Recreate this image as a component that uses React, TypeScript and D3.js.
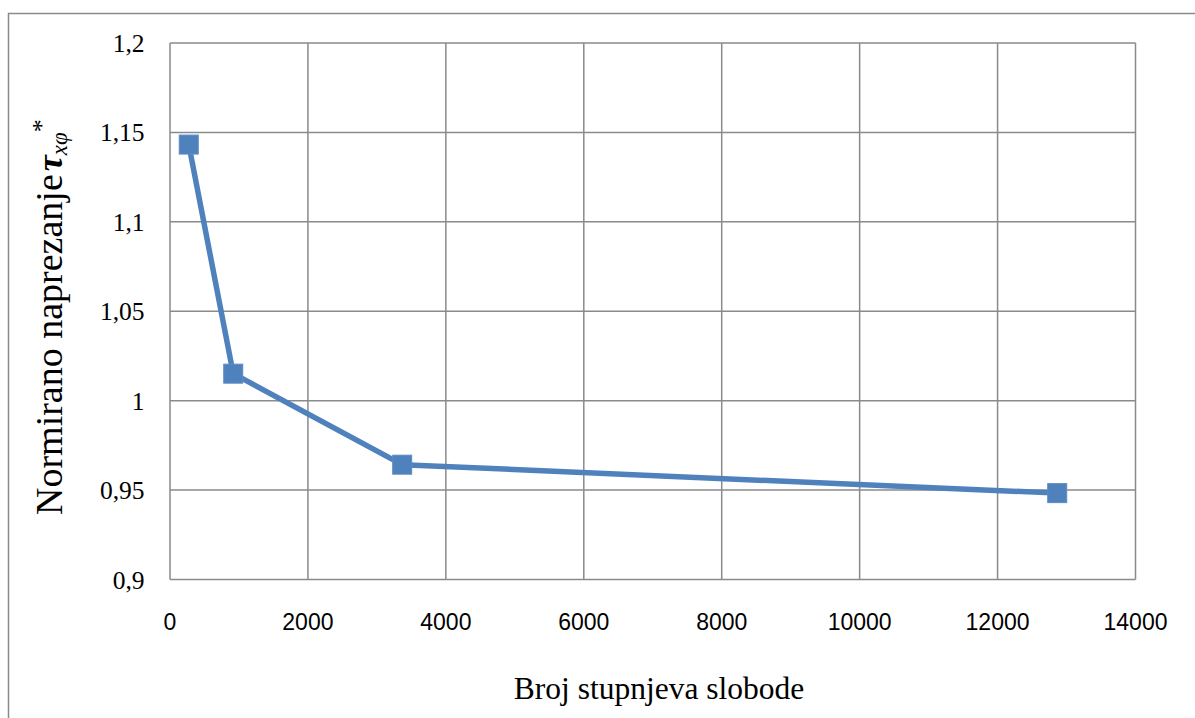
import React from "react";
import * as d3 from "d3";

const dofValues = [272, 917, 3367, 12865];
const stressValues = [1.1432, 1.0151, 0.9642, 0.9483];
const xTicks = [0, 2000, 4000, 6000, 8000, 10000, 12000, 14000];
const yTicks = [0.9, 0.95, 1.0, 1.05, 1.1, 1.15, 1.2];
const yTickLabels = ["0,9", "0,95", "1", "1,05", "1,1", "1,15", "1,2"];

const W = 1195;
const H = 718;
const plot = { left: 170, right: 1135.5, top: 43, bottom: 579.5 };
const blue = "#4F81BD";
const grid = "#8a8a8a";

export default function App() {
  const x = d3.scaleLinear().domain([0, 14000]).range([plot.left, plot.right]);
  const y = d3.scaleLinear().domain([0.9, 1.2]).range([plot.bottom, plot.top]);
  const pts = dofValues.map((d, i) => [x(d), y(stressValues[i])] as [number, number]);
  const line = d3.line()(pts) || "";
  const ms = 19;
  return (
    <svg
      width={W}
      height={H}
      style={{ position: "absolute", left: 0, top: 0, background: "#fff" }}
    >
      <rect x={0} y={0} width={W} height={H} fill="#fff" />
      {/* outer chart border */}
      <path d={`M8.5,${H + 5} L8.5,13.5 L${W + 5},13.5`} fill="none" stroke={grid} strokeWidth={1.5} />
      {/* grid */}
      {yTicks.map((t, i) => (
        <line key={"gy" + i} x1={plot.left} x2={plot.right} y1={y(t)} y2={y(t)} stroke={grid} strokeWidth={1.5} />
      ))}
      {xTicks.map((t, i) => (
        <line key={"gx" + i} x1={x(t)} x2={x(t)} y1={plot.top} y2={plot.bottom} stroke={grid} strokeWidth={1.5} />
      ))}
      {/* y tick labels */}
      {yTicks.map((t, i) => (
        <text
          key={"yt" + i}
          x={144.5}
          y={y(t) + 9}
          textAnchor="end"
          fontFamily="'Liberation Serif', 'Times New Roman', serif"
          fontSize={25.5}
          fill="#000"
        >
          {yTickLabels[i]}
        </text>
      ))}
      {/* x tick labels */}
      {xTicks.map((t, i) => (
        <text
          key={"xt" + i}
          x={x(t)}
          y={630}
          textAnchor="middle"
          fontFamily="'Liberation Sans', Arial, sans-serif"
          fontSize={23}
          fill="#000"
        >
          {String(t)}
        </text>
      ))}
      {/* x axis title */}
      <text
        x={659}
        y={699}
        textAnchor="middle"
        fontFamily="'Liberation Serif', 'Times New Roman', serif"
        fontSize={31.5}
        fill="#000"
      >
        Broj stupnjeva slobode
      </text>
      {/* y axis title */}
      <text
        transform={`translate(62,515) rotate(-90)`}
        fontFamily="'Liberation Serif', 'Times New Roman', serif"
        fontSize={38}
        fill="#000"
      >
        Normirano naprezanje
        <tspan fontWeight="bold" fontStyle="italic" fontSize={36} dx={3}>τ</tspan>
        <tspan fontStyle="italic" fontSize={23} dy={5}>xφ</tspan>
        <tspan fontSize={26} dy={-17}>*</tspan>
      </text>
      {/* series */}
      <path d={line} fill="none" stroke={blue} strokeWidth={5.5} strokeLinejoin="round" />
      {pts.map((p, i) => (
        <rect
          key={"m" + i}
          x={p[0] - ms / 2}
          y={p[1] - ms / 2}
          width={ms}
          height={ms}
          fill={blue}
          stroke="#5b8cc6"
          strokeWidth={1}
        />
      ))}
    </svg>
  );
}
